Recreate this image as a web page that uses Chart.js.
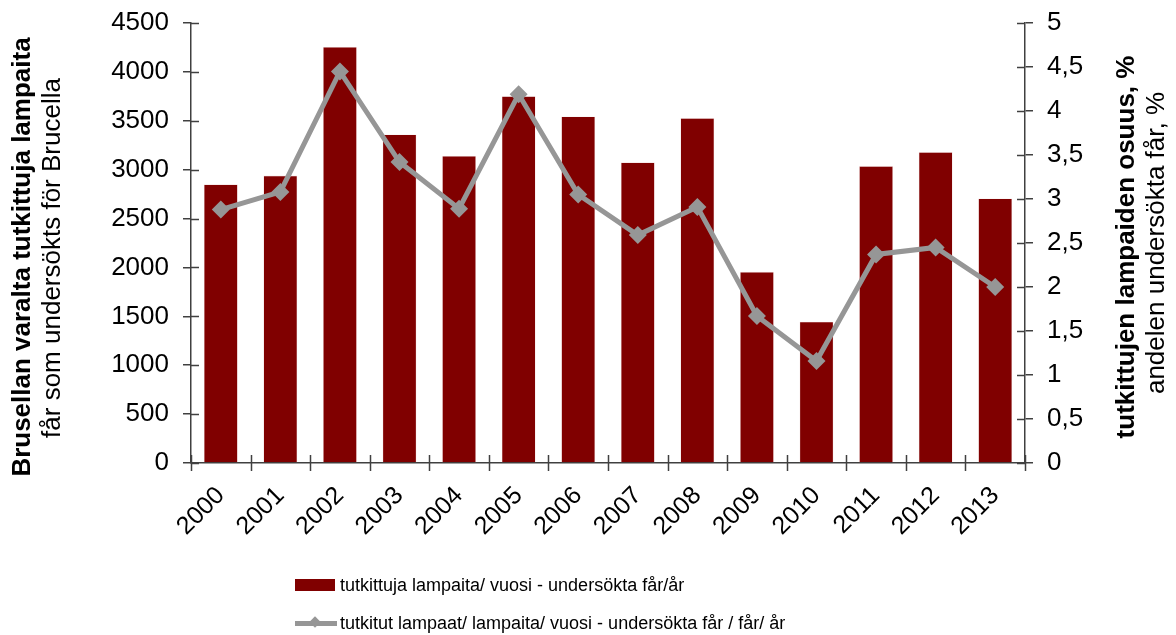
<!DOCTYPE html>
<html>
<head>
<meta charset="utf-8">
<script src="https://cdn.jsdelivr.net/npm/chart.js@4.4.1/dist/chart.umd.min.js"></script>
<style>
  html, body { margin: 0; padding: 0; background: #fff; }
  #wrap { position: relative; width: 1176px; height: 635px; }
  #legend { position: absolute; left: 295px; top: 566px; font: 18px "Liberation Sans", Arial, sans-serif; color: #000; }
  .item { display: flex; align-items: center; height: 38px; }
  .sw { width: 40px; height: 12px; margin-right: 5px; position: relative; }
  .ln { width: 42px; height: 5px; margin-right: 3px; position: relative; }
  .ln i { position: absolute; left: 16px; top: -3px; width: 8px; height: 8px; transform: rotate(45deg); }
</style>
</head>
<body>
<div id="wrap">
  <canvas id="chart" width="1176" height="635"></canvas>
  <div id="legend"></div>
</div>
<script>
// ---- data ----
const years = ["2000","2001","2002","2003","2004","2005","2006","2007","2008","2009","2010","2011","2012","2013"];
const examined = [2850, 2940, 4255, 3360, 3140, 3752, 3545, 3075, 3528, 1955, 1445, 3037, 3180, 2705];
const sharePct = [2.88, 3.08, 4.45, 3.42, 2.89, 4.19, 3.05, 2.59, 2.91, 1.67, 1.16, 2.37, 2.45, 2.0];

const leftTicks  = [0, 500, 1000, 1500, 2000, 2500, 3000, 3500, 4000, 4500];
const rightTicks = [0, 0.5, 1, 1.5, 2, 2.5, 3, 3.5, 4, 4.5, 5];

const barLabel  = "tutkittuja lampaita/ vuosi - undersökta får/år";
const lineLabel = "tutkitut lampaat/ lampaita/ vuosi - undersökta får / får/ år";

const leftTitle  = ["Brusellan varalta tutkittuja lampaita", "får som undersökts för Brucella"];
const rightTitle = ["tutkittujen lampaiden osuus, %", "andelen undersökta får, %"];

const FONT  = "'Liberation Sans', Arial, sans-serif";
const AXIS  = "#404040";
const BAR   = "#800000";
const LINE  = "#969696";

// inner tick marks + rotated axis titles
const decorPlugin = {
  id: "decor",
  afterDraw(chart) {
    const { ctx, chartArea: a, scales } = chart;
    ctx.save();
    ctx.strokeStyle = AXIS;
    ctx.lineWidth = 1.5;
    ctx.beginPath();
    scales.y.ticks.forEach((t, i) => {
      const py = Math.round(scales.y.getPixelForTick(i)) + 0.5;
      ctx.moveTo(a.left, py); ctx.lineTo(a.left + 8, py);
    });
    scales.y1.ticks.forEach((t, i) => {
      const py = Math.round(scales.y1.getPixelForTick(i)) + 0.5;
      ctx.moveTo(a.right - 8, py); ctx.lineTo(a.right, py);
    });
    const step = (a.right - a.left) / years.length;
    for (let i = 0; i <= years.length; i++) {
      const px = Math.round(a.left + i * step) + 0.5;
      ctx.moveTo(px, a.bottom - 8); ctx.lineTo(px, a.bottom + 8);
    }
    ctx.stroke();

    ctx.fillStyle = "#000";
    ctx.textAlign = "center";
    ctx.textBaseline = "middle";
    const drawRot = (txt, x, y, bold) => {
      ctx.save();
      ctx.translate(x, y);
      ctx.rotate(-Math.PI / 2);
      ctx.font = (bold ? "bold " : "") + "26px " + FONT;
      ctx.fillText(txt, 0, 0);
      ctx.restore();
    };
    drawRot(leftTitle[0], 23, 257, true);
    drawRot(leftTitle[1], 53, 258, false);
    drawRot(rightTitle[0], 1127, 247, true);
    drawRot(rightTitle[1], 1157, 243, false);
    ctx.restore();
  }
};

const noVPad = s => { s.paddingTop = 0; s.paddingBottom = 0; };

const chart = new Chart(document.getElementById("chart"), {
  data: {
    labels: years,
    datasets: [
      {
        type: "line",
        label: lineLabel,
        data: sharePct,
        yAxisID: "y1",
        borderColor: LINE,
        backgroundColor: LINE,
        borderWidth: 5,
        pointStyle: "rectRot",
        pointRadius: 9,
        pointBorderWidth: 0,
        pointBackgroundColor: LINE,
        tension: 0,
        order: 0
      },
      {
        type: "bar",
        label: barLabel,
        data: examined,
        yAxisID: "y",
        backgroundColor: BAR,
        borderColor: "#f2dede",
        borderWidth: 0.6,
        categoryPercentage: 1,
        barPercentage: 0.57,
        order: 1
      }
    ]
  },
  options: {
    responsive: false,
    animation: false,
    layout: { padding: { top: 23, left: 0, right: 0, bottom: 0 } },
    plugins: { legend: { display: false }, tooltip: { enabled: false } },
    scales: {
      x: {
        offset: true,
        grid: { display: false, drawTicks: false },
        border: { color: AXIS, width: 1.5 },
        ticks: {
          color: "#000", font: { family: FONT, size: 25 },
          minRotation: 45, maxRotation: 45, padding: 18
        },
        afterFit(s) { s.height = 172; s.paddingLeft = 0; s.paddingRight = 0; }
      },
      y: {
        position: "left",
        min: 0, max: 4500,
        afterBuildTicks(s) { s.ticks = leftTicks.map(v => ({ value: v })); },
        grid: { drawOnChartArea: false, tickLength: 8, color: AXIS, lineWidth: 1.5 },
        border: { color: AXIS, width: 1.5 },
        ticks: { color: "#000", font: { family: FONT, size: 26 }, padding: 14, callback: v => String(v) },
        afterFit(s) { s.width = 191; noVPad(s); }
      },
      y1: {
        position: "right",
        min: 0, max: 5,
        afterBuildTicks(s) { s.ticks = rightTicks.map(v => ({ value: v })); },
        grid: { drawOnChartArea: false, tickLength: 8, color: AXIS, lineWidth: 1.5 },
        border: { color: AXIS, width: 1.5 },
        ticks: {
          color: "#000", font: { family: FONT, size: 26 }, padding: 14,
          callback: v => String(v).replace(".", ",")
        },
        afterFit(s) { s.width = 151; noVPad(s); }
      }
    }
  },
  plugins: [decorPlugin]
});

// html legend built from datasets
const legendEl = document.getElementById("legend");
[chart.data.datasets[1], chart.data.datasets[0]].forEach(ds => {
  const row = document.createElement("div");
  row.className = "item";
  if (ds.type === "bar") {
    row.innerHTML = `<span class="sw" style="background:${ds.backgroundColor}"></span><span>${ds.label}</span>`;
  } else {
    row.innerHTML = `<span class="ln" style="background:${ds.borderColor}"><i style="background:${ds.borderColor}"></i></span><span>${ds.label}</span>`;
  }
  legendEl.appendChild(row);
});
</script>
</body>
</html>
